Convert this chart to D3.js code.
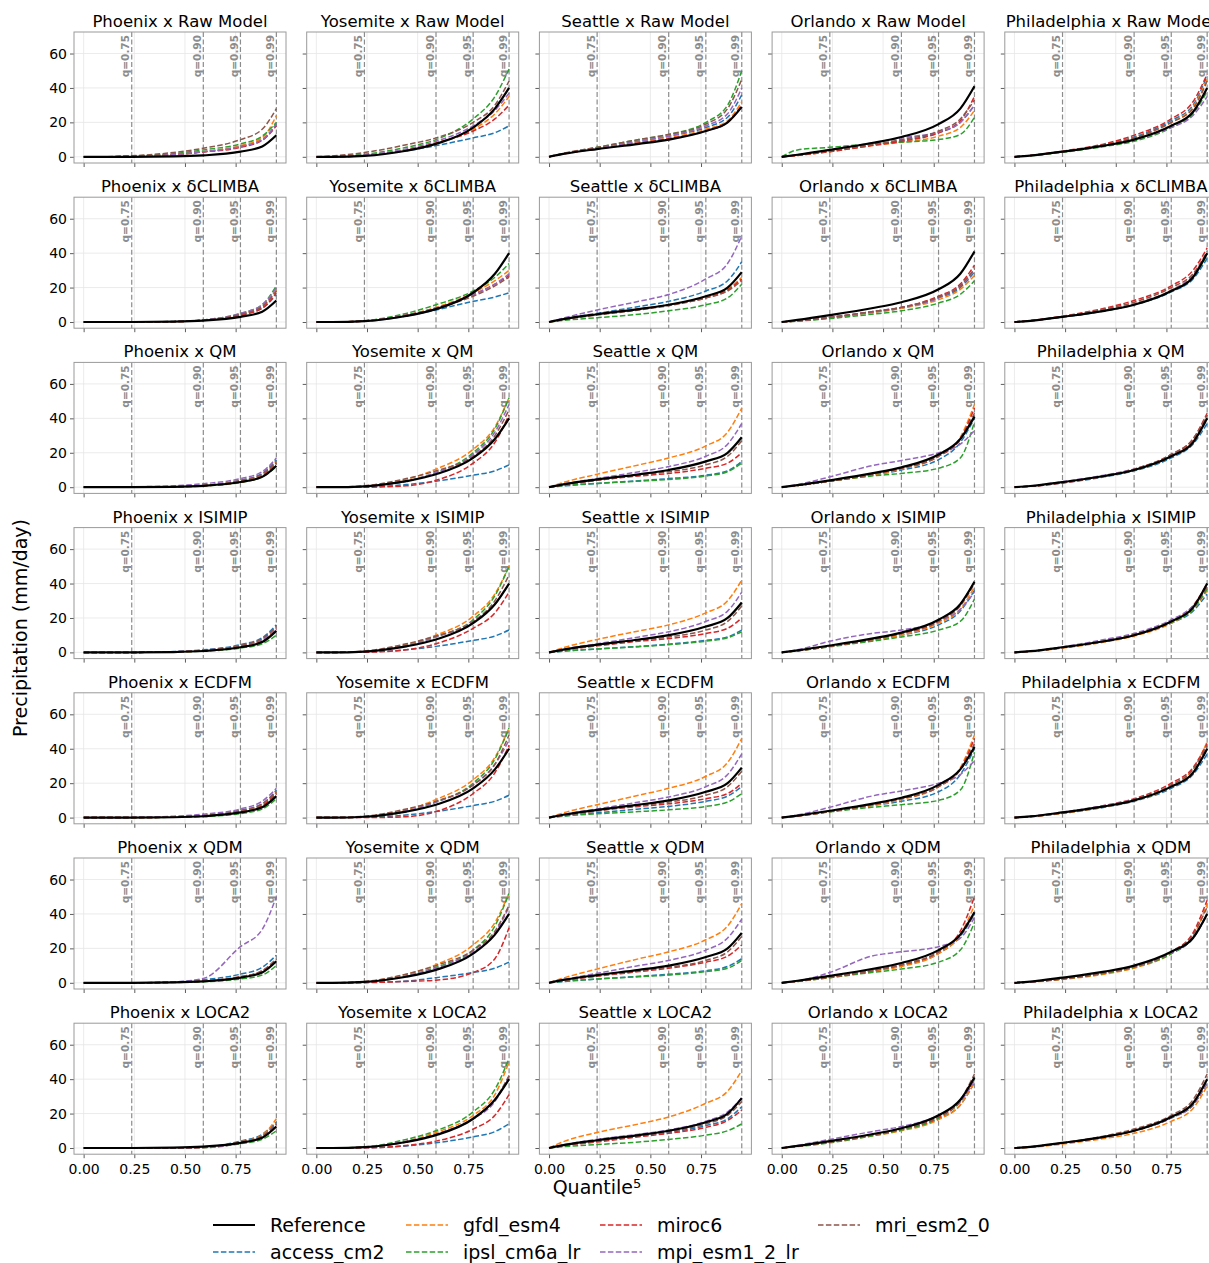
<!DOCTYPE html>
<html>
<head>
<meta charset="utf-8">
<script src="https://cdn.jsdelivr.net/npm/d3@7"></script>
<style>
  body { margin: 0; background: #fff; }
  text { font-family: 'DejaVu Sans', sans-serif; }
</style>
</head>
<body>
<svg id="chart" width="1209" height="1263"></svg>
<script>
'use strict';

var cities    = [ 'Phoenix', 'Yosemite', 'Seattle', 'Orlando', 'Philadelphia' ],
    methods   = [ 'Raw Model', 'δCLIMBA', 'QM', 'ISIMIP', 'ECDFM', 'QDM', 'LOCA2' ],
    models    = [ 'access_cm2', 'gfdl_esm4', 'ipsl_cm6a_lr', 'miroc6', 'mpi_esm1_2_lr', 'mri_esm2_0' ],
    quantiles = [ 0, 0.6, 0.75, 0.85, 0.9, 0.95, 0.975, 0.99 ],
    marked    = [ '0.75', '0.90', '0.95', '0.99' ],
    xTicks    = [ 0, 0.25, 0.5, 0.75 ],
    yTicks    = [ 0, 20, 40, 60 ];

// Observed reference, one curve per city (mm/day at each quantile).
var reference = [
  [ 0, 0, 0, 0.2, 0.8, 3, 6, 12.5 ],
  [ 0, 0, 0.5, 3.5, 7.5, 17, 28, 40 ],
  [ 0, 1.8, 4.5, 7.5, 10, 15, 20, 29 ],
  [ 0, 1.2, 4, 8, 11.5, 19, 28, 41 ],
  [ 0, 0.7, 3, 6.5, 10, 18, 26, 40 ]
];

// Per method: [city][model][quantile].
var rawModel = [
  [ [0,0,0.3,1.3,3,6,10,19], [0,0,0.3,1.3,3,6.5,11,24], [0,0,0.4,1.8,4,7.5,12,20],
    [0,0,0.3,1.2,2.8,5.5,9.5,18], [0,0,0.3,1.3,3,6,10,19], [0,0,0.6,2.5,5,10,16,28] ],
  [ [0,0,0.8,3.5,6.5,11,14,18], [0,0,0.8,4,8,16,25,35], [0,0.2,1.5,5.5,10,22,35,51],
    [0,0,0.8,4,8,15,22,30], [0,0,1,4.5,9,18,27,37], [0,0.5,2.5,7,11,20,30,44] ],
  [ [0,2,5,9,12,17,23,36], [0,2,5,8.5,11,16,21,32], [0,2,5.5,10,13,20,30,50],
    [0,1.8,4.5,8,10.5,15,20,30], [0,2,5,9,12,18,25,40], [0,2.2,5.5,10,13,19,28,45] ],
  [ [0,1,3.5,7,9.5,14,20,30], [0,0.8,3,6.5,8.5,12,17,27], [0,4,5.5,7.5,8.5,10,13,23],
    [0,0.8,3,6.5,9,14,21,35], [0,1.2,4,8,11,14.5,20,30], [0,1,3.5,7,10,15,22,33] ],
  [ [0,0.7,3,7,11.5,21,30,47], [0,0.7,3,7,11,20,29,45], [0,0.6,2.6,6,9,17,25,38],
    [0,0.8,3.3,7.5,12.5,22,32,48], [0,0.7,3,6.5,10,17,24,35], [0,0.7,3,7,11,20,28,44] ]
];

var deltaClimba = [
  [ [0,0,0,0.2,1,4,8,16], [0,0,0,0.2,1,4.5,9,19], [0,0,0,0.3,1.2,5,10,21],
    [0,0,0,0.2,1,4,8,17], [0,0,0,0.3,1.2,5,10,20], [0,0,0,0.2,1,4.5,9,18] ],
  [ [0,0,0.5,3.5,7,12,14.5,17], [0,0,0.6,4,8.5,17,24,30], [0,0,0.8,5,10,18,26,34],
    [0,0,0.6,4,8,16,22,27], [0,0,0.6,4,8,16,22,28], [0,0,0.6,4,8,15,21,26] ],
  [ [0,2,5,9,12,18,24,35], [0,1.8,4.5,7.5,10,14.5,19,26], [0,1,2.5,4.5,6.5,10,14,22],
    [0,1.8,4.5,7.5,10,14,18.5,25], [0,2.5,7,12,16,25,34,50], [0,1.5,4,7,9.5,14,18,24] ],
  [ [0,0.6,2.5,5.5,8,14,20,29], [0,0.6,2.5,5.5,8,13,19,27], [0,0.5,2,4.5,6.5,11,16,24],
    [0,0.7,2.7,6,8.5,15,22,33], [0,0.7,2.7,6,8.5,14,21,30], [0,0.7,2.7,6,8.5,14.5,21,31] ],
  [ [0,0.7,2.8,6.5,10,17.5,25,37], [0,0.7,3,7,10.5,18.5,27,40], [0,0.7,3,6.5,10,18,26,39],
    [0,0.8,3.4,8,12.5,21,30,43], [0,0.7,3,6.8,10.5,18.5,27,40], [0,0.7,3.2,7.5,11.5,20,28,41] ]
];

var qm = [
  [ [0,0,0,0.3,1,4,8,16], [0,0,0,0.3,1,3.5,7,15], [0,0,0,0.2,0.7,2.8,6,12],
    [0,0,0,0.2,0.8,3,6.5,14], [0,0,0.2,0.8,2,5,9,17], [0,0,0,0.3,1,4,7.5,15] ],
  [ [0,0,0.2,1.5,3.5,7,9.5,13], [0,0,0.5,4.5,10.5,22,35,52], [0,0,0.3,3.5,8.5,20,34,52],
    [0,0,0,0.8,4,14,26,42], [0,0,0.4,3.5,8.5,19,32,48], [0,0,0.8,5,9.5,18,30,45] ],
  [ [0,0.8,2.2,3.8,5,7,9.5,15], [0,3,7.5,13,17,24,32,46], [0,1,2.2,3.5,4.5,6.5,9,14],
    [0,1.5,4,6.5,8,11,14,20], [0,2,5,9,12,18,25,37], [0,1.5,4,7,9,13,18,27] ],
  [ [0,1,3.5,7,10,16,26,40], [0,1,3.5,7,10.5,18,29,48], [0,1,3.5,6.5,8,11,17,38],
    [0,1,3.5,7.5,11,18,28,46], [0,1.5,6,12.5,15.5,20,25,33], [0,1,3.5,7.5,11,18,28,43] ],
  [ [0,0.5,2.5,6,9.5,17,25,37], [0,0.6,2.8,6.5,10,18,27,42], [0,0.6,2.8,6.5,10,18,26,40],
    [0,0.5,2.5,6.5,10.5,19,28,43], [0,0.7,3.2,7,10.5,18,26,40], [0,0.5,2.6,6.5,10.5,19,28,42] ]
];

var isimip = [
  [ [0,0,0,0.5,1.5,4.5,8.5,16], [0,0,0,0.3,1,3.5,7,14], [0,0,0,0.2,0.7,2.5,5,10],
    [0,0,0,0.3,0.9,3.3,6.5,13], [0,0,0,0.4,1.2,4,7.5,14], [0,0,0,0.4,1.2,4,8,15] ],
  [ [0,0,0.2,1.5,3.5,7,9.5,13], [0,0,0.5,4.5,10,21,34,50], [0,0,0.4,4,9,19,33,50],
    [0,0,0.1,1.5,5,14,23,35], [0,0,0.5,4,9,18,28,40], [0,0,0.8,5,9.5,18,30,45] ],
  [ [0,0.8,2,3.5,4.8,7,9,13], [0,3,7.5,12.5,16,23,30,42], [0,0.8,2,3.3,4.5,6.5,8.5,12],
    [0,1.5,3.8,6.5,8,11,14,20], [0,2,5,9,12,18,24,35], [0,1.5,4,7,9,13,18,27] ],
  [ [0,1,3.5,7,10,16,24,36], [0,1,3.5,7,10,17,25,38], [0,0.9,3.3,6.5,9,13,18,31],
    [0,1,3.5,7.5,11,18,28,41], [0,1.5,6.5,11,13,18,25,35], [0,1,3.5,7.5,11,18,27,40] ],
  [ [0,0.6,2.8,6.5,10,17,24,34], [0,0.5,2.5,6,9.5,17,25,36], [0,0.6,2.8,6.5,10,17.5,25,37],
    [0,0.6,2.8,6.5,10,18,27,40], [0,0.7,3.2,7.5,11,19,27,38], [0,0.6,2.8,6.5,10.5,18,26,38] ]
];

var ecdfm = [
  [ [0,0,0,0.4,1.2,4.2,8,16], [0,0,0,0.3,1,3.5,7,15], [0,0,0,0.2,0.6,2.3,5,11],
    [0,0,0,0.3,1,3.3,7,14], [0,0,0.2,0.8,2,5,9.5,17], [0,0,0,0.4,1.2,4,8,15] ],
  [ [0,0,0.2,1.5,3.5,7,9.5,13], [0,0,0.5,4.5,10.5,22,35,52], [0,0,0.3,3.5,9,20,34,52],
    [0,0,0,0.5,3.5,14,26,42], [0,0,0.4,4,9,19,31,45], [0,0,0.8,5,9.5,19,31,48] ],
  [ [0,1,2.8,5,6.5,9.5,12.5,18], [0,3,7.5,13,17,24,32,46], [0,1,2.2,3.5,4.5,6.5,9,14],
    [0,1.5,4,6.5,8,11,14,20], [0,2,5,9,12,18,25,37], [0,1.5,4,7,9,13,18,27] ],
  [ [0,1,3.5,7,9.5,15,25,40], [0,1,3.5,7,10.5,18,29,48], [0,1,3.3,6,7.5,10,16,38],
    [0,1,3.5,7.5,11,18,28,46], [0,1.5,6,12.5,15.5,20,25,33], [0,1,3.5,7.5,11,18,28,43] ],
  [ [0,0.5,2.5,6,9.5,17,25,37], [0,0.5,2.5,6.2,10,18,28,44], [0,0.6,2.8,6.5,10,18,26,40],
    [0,0.6,2.8,7,11,20,29,43], [0,0.7,3.2,7,10.5,18,26,40], [0,0.6,2.8,6.5,10.5,19,28,42] ]
];

var qdm = [
  [ [0,0,0,0.5,1.8,5,9,16], [0,0,0,0.3,1,3.3,6.5,13], [0,0,0,0.2,0.6,2.2,4.5,10],
    [0,0,0,0.3,1,3.5,7,13], [0,0,0,0.5,2.5,21,31,50], [0,0,0,0.3,1,3.5,7,14] ],
  [ [0,0,0.2,1,3,6,8.5,12], [0,0,0.6,5,10.5,22,35,52], [0,0,0.4,4,9,19,33,52],
    [0,0,0.1,0.8,1.5,6,14,32], [0,0,0.5,4,8.5,18,29,44], [0,0,0.8,5,10,19,30,45] ],
  [ [0,0.8,2.2,3.8,5,7,9.5,14], [0,3,8,14,18,25,33,46], [0,1,2.2,3.5,4.5,6.5,8.5,13],
    [0,1.5,3.8,6.5,8.5,12,15.5,22], [0,2,5.5,10,13,19,26,37], [0,1.5,4,7,9,13,18,27] ],
  [ [0,1,3.5,7,10,17,27,40], [0,0.8,3,6.5,9.5,17,28,45], [0,0.8,3,6,8,12,19,35],
    [0,0.9,3.3,7,10.5,18,30,50], [0,1,6,15.5,18,21,26,38], [0,0.9,3.3,7,10.5,18,28,40] ],
  [ [0,0.5,2.3,5.5,9,17,26,40], [0,0.4,2,5,8.5,17,27,46], [0,0.5,2.3,5.5,9,17,26,40],
    [0,0.5,2.3,5.8,9.5,18,29,48], [0,0.5,2.5,6,9.5,17.5,26,40], [0,0.5,2.3,5.8,9.5,18,28,44] ]
];

var loca2 = [
  [ [0,0,0,0,0.5,4,8,15], [0,0,0,0,0.4,3.5,7.5,17], [0,0,0,0,0.2,2.5,5,10],
    [0,0,0,0,0.3,3,6.5,13], [0,0,0,0,0.3,3,7,14], [0,0,0,0,0.4,3.5,7,14] ],
  [ [0,0,0.1,1.2,3,6.5,9.5,14], [0,0,0.5,4,9,19,31,50], [0,0,0.6,5,10,21,34,52],
    [0,0,0.1,1.5,4,11,19,31], [0,0,0.5,4,8,17,27,42], [0,0,0.4,3.5,8,17,28,42] ],
  [ [0,1.5,4,7,9,13,17,24], [0,4,9,14,18,26,33,45], [0,0.8,2,3.5,5,7.5,10,14],
    [0,1.5,3.5,6.5,8.5,12,16,22], [0,2,5,8,10.5,15.5,21,29], [0,1.5,4,7,9.5,14,19,27] ],
  [ [0,1,3.5,7.5,10.5,17,25,38], [0,1,3.3,7,10,16.5,25,38], [0,0.8,3,7,10.5,17.5,27,40],
    [0,1,3.5,7.5,11,18,27,40], [0,1.5,5,9.5,12.5,19,27,39], [0,1,3.5,7.5,11,18.5,28,43] ],
  [ [0,0.6,2.8,6.5,10,17.5,25,38], [0,0.4,2.3,5.5,8.5,15.5,23,36], [0,0.6,2.8,6.5,10,17.5,25,38],
    [0,0.6,2.8,6.5,10,18,26,39], [0,0.6,2.8,6.5,10,17.5,25,38], [0,0.7,3,7,11,19,28,43] ]
];

var methodValues = [ rawModel, deltaClimba, qm, isimip, ecdfm, qdm, loca2 ];

// Layout.
var panelLeft   = 74,
    panelTop    = 32,
    panelW      = 212,
    panelH      = 131,
    colStep     = 232.7,
    rowStep     = 165.2,
    gridColor   = '#e6e6e6',
    spineColor  = '#9a9a9a',
    markColor   = '#8c8c8c';

var colors = d3.scaleOrdinal()
  .domain( models )
  .range( d3.schemeCategory10.slice( 0, models.length ) );

function power5( q ) {
  return Math.pow( q, 5 );
}

var xMax = power5( 0.99 ),
    pad  = xMax * 0.05;

var x = d3.scaleLinear()
  .domain( [ -pad, xMax + pad ] )
  .range( [ 0, panelW ] );

var y = d3.scaleLinear()
  .domain( [ -3.6, 72.5 ] )
  .range( [ panelH, 0 ] );

var line = d3.line()
  .x( function( d ) { return x( d.x ); } )
  .y( function( d ) { return y( d.y ); } )
  .curve( d3.curveMonotoneX );

function points( values ) {
  return values.map( function( v, i ) {
    return { x: power5( quantiles[ i ] ), y: v };
  });
}

var svg = d3.select( '#chart' );

methods.forEach( function( method, r ) {
  cities.forEach( function( city, c ) {
    var g = svg.append( 'g' )
      .attr( 'transform', 'translate(' + ( panelLeft + c * colStep ) + ',' + ( panelTop + r * rowStep ) + ')' );

    // Grid.
    g.append( 'g' ).selectAll( 'line.gx' )
      .data( xTicks )
      .enter().append( 'line' )
        .attr( 'x1', x ).attr( 'x2', x )
        .attr( 'y1', 0 ).attr( 'y2', panelH )
        .style( 'stroke', gridColor ).style( 'stroke-width', 0.8 );

    g.append( 'g' ).selectAll( 'line.gy' )
      .data( yTicks )
      .enter().append( 'line' )
        .attr( 'x1', 0 ).attr( 'x2', panelW )
        .attr( 'y1', y ).attr( 'y2', y )
        .style( 'stroke', gridColor ).style( 'stroke-width', 0.8 );

    // Axes.
    var xAxis = d3.axisBottom( x )
      .tickValues( xTicks )
      .tickSize( 4 )
      .tickFormat( r === methods.length - 1 ? d3.format( '.2f' ) : '' );

    var yAxis = d3.axisLeft( y )
      .tickValues( yTicks )
      .tickSize( 4 )
      .tickFormat( c === 0 ? d3.format( 'd' ) : '' );

    var gx = g.append( 'g' )
      .attr( 'transform', 'translate(0,' + panelH + ')' )
      .call( xAxis );
    var gy = g.append( 'g' ).call( yAxis );

    [ gx, gy ].forEach( function( a ) {
      a.select( '.domain' ).remove();
      a.selectAll( '.tick line' ).style( 'stroke', '#333' ).style( 'stroke-width', 0.8 );
      a.selectAll( '.tick text' )
        .style( 'font-family', 'DejaVu Sans, sans-serif' )
        .style( 'font-size', '14px' )
        .style( 'fill', '#000' );
    });
    gx.selectAll( '.tick text' ).attr( 'dy', '0.95em' );

    // Quantile markers.
    var marks = g.append( 'g' ).selectAll( 'g' )
      .data( marked )
      .enter().append( 'g' );

    marks.append( 'line' )
      .attr( 'x1', function( d ) { return x( power5( +d ) ); } )
      .attr( 'x2', function( d ) { return x( power5( +d ) ); } )
      .attr( 'y1', 0 ).attr( 'y2', panelH )
      .style( 'stroke', markColor )
      .style( 'stroke-width', 1.2 )
      .style( 'stroke-dasharray', '5,2.5' );

    marks.append( 'text' )
      .text( function( d ) { return 'q=' + d; } )
      .attr( 'transform', function( d ) {
        return 'translate(' + ( x( power5( +d ) ) - 2.5 ) + ',3) rotate(-90)';
      })
      .style( 'text-anchor', 'end' )
      .style( 'font-size', '10.5px' )
      .style( 'font-weight', 'bold' )
      .style( 'fill', markColor );

    // Model curves, then the reference on top.
    var series = methodValues[ r ][ c ];
    g.append( 'g' ).selectAll( 'path' )
      .data( models )
      .enter().append( 'path' )
        .attr( 'd', function( m, i ) { return line( points( series[ i ] ) ); } )
        .style( 'fill', 'none' )
        .style( 'stroke', colors )
        .style( 'stroke-width', 1.5 )
        .style( 'stroke-dasharray', '5.5,2.4' );

    g.append( 'path' )
      .attr( 'd', line( points( reference[ c ] ) ) )
      .style( 'fill', 'none' )
      .style( 'stroke', '#000' )
      .style( 'stroke-width', 2.2 );

    // Frame.
    g.append( 'rect' )
      .attr( 'width', panelW ).attr( 'height', panelH )
      .style( 'fill', 'none' )
      .style( 'stroke', spineColor )
      .style( 'stroke-width', 1 );

    // Title.
    g.append( 'text' )
      .text( city + ' x ' + method )
      .attr( 'x', panelW / 2 )
      .attr( 'y', -5 )
      .style( 'text-anchor', 'middle' )
      .style( 'font-size', '16.5px' )
      .style( 'fill', '#000' );
  });
});

// Axis labels.
svg.append( 'text' )
  .text( 'Precipitation (mm/day)' )
  .attr( 'transform', 'translate(27,628) rotate(-90)' )
  .style( 'text-anchor', 'middle' )
  .style( 'font-size', '19px' );

var xLabel = svg.append( 'text' )
  .attr( 'x', 597 )
  .attr( 'y', 1194 )
  .style( 'text-anchor', 'middle' )
  .style( 'font-size', '19px' );
xLabel.append( 'tspan' ).text( 'Quantile' );
xLabel.append( 'tspan' )
  .text( '5' )
  .attr( 'dy', '-0.45em' )
  .style( 'font-size', '13px' );

// Legend: four columns, filled top to bottom.
var legendItems = [ 'Reference' ].concat( models ),
    legendX     = [ 213, 406, 600, 818 ],
    legendY     = [ 1225, 1252 ];

var item = svg.append( 'g' ).selectAll( 'g' )
  .data( legendItems )
  .enter().append( 'g' )
    .attr( 'transform', function( d, i ) {
      return 'translate(' + legendX[ Math.floor( i / 2 ) ] + ',' + legendY[ i % 2 ] + ')';
    });

item.append( 'line' )
  .attr( 'x1', 0 ).attr( 'x2', 42 )
  .style( 'stroke', function( d, i ) { return i ? colors( d ) : '#000'; } )
  .style( 'stroke-width', function( d, i ) { return i ? 1.5 : 2.2; } )
  .style( 'stroke-dasharray', function( d, i ) { return i ? '5.5,2.4' : null; } );

item.append( 'text' )
  .text( function( d ) { return d; } )
  .attr( 'x', 57 )
  .attr( 'dy', '0.35em' )
  .style( 'font-size', '19px' );
</script>
</body>
</html>
